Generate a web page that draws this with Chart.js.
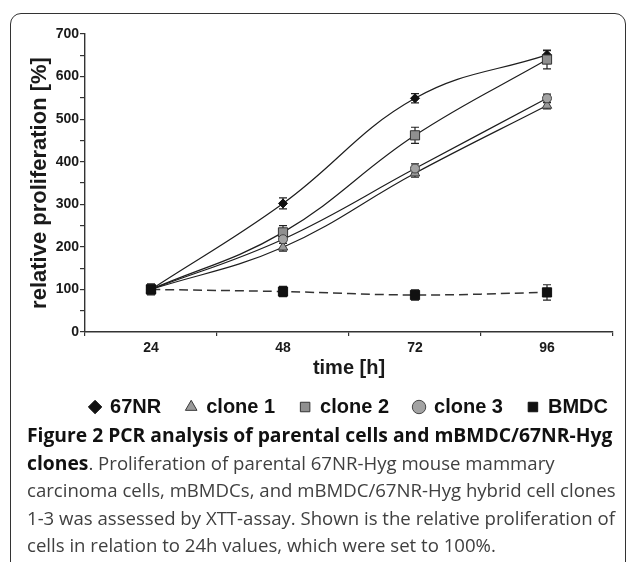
<!DOCTYPE html>
<html>
<head>
<meta charset="utf-8">
<script src="https://cdn.jsdelivr.net/npm/chart.js@4.4.1/dist/chart.umd.min.js"></script>
<style>
  html, body { margin: 0; padding: 0; background: #fff; }
  body { width: 629px; height: 562px; position: relative; overflow: hidden; }
  #frame { position: absolute; left: 10px; top: 13px; width: 614px; height: 620px;
           border: 1.5px solid #333; border-radius: 11px; }
  #wrap { position: absolute; left: 0; top: 0; width: 629px; height: 437px; }
  #caption { position: absolute; left: 27px; top: 421px; font-family: 'Open Sans', sans-serif;
             font-size: 18.6px; line-height: 27.5px; color: #404040; white-space: nowrap; }
  #caption b { color: #111; font-weight: 700; font-size: 19.3px; }
</style>
</head>
<body>
<div id="frame"></div>
<div id="wrap"><canvas id="chart"></canvas></div>
<div id="caption">
<b>Figure 2 PCR analysis of parental cells and mBMDC/67NR-Hyg</b><br>
<b>clones</b>. Proliferation of parental 67NR-Hyg mouse mammary<br>
carcinoma cells, mBMDCs, and mBMDC/67NR-Hyg hybrid cell clones<br>
1-3 was assessed by XTT-assay. Shown is the relative proliferation of<br>
cells in relation to 24h values, which were set to 100%.
</div>
<script>
// values (relative proliferation, %)
var times = ['24', '48', '72', '96'];
var nr67 = [100, 302, 549, 651];
var nr67Err = [8, 13, 11, 10];
var clone1 = [100, 199, 373, 532];
var clone1Err = [8, 9, 9, 8];
var clone2 = [100, 234, 462, 640];
var clone2Err = [10, 16, 19, 22];
var clone3 = [100, 218, 384, 549];
var clone3Err = [8, 10, 11, 10];
var bmdc = [100, 95, 87, 93];
var bmdcErr = [13, 12, 12, 18];
var yTicks = { min: 0, max: 700, step: 50 };

var FONT = "'Liberation Sans', Arial, sans-serif";
var INK = '#1a1a1a';

// error bars, drawn under the markers
var errorBars = {
  id: 'errorBars',
  beforeDatasetsDraw: function(chart) {
    var ctx = chart.ctx;
    var ys = chart.scales.y;
    chart.data.datasets.forEach(function(ds, di) {
      var meta = chart.getDatasetMeta(di);
      ds.data.forEach(function(v, i) {
        var pt = meta.data[i];
        var e = ds.errors[i];
        var top = ys.getPixelForValue(v + e);
        var bot = ys.getPixelForValue(v - e);
        ctx.save();
        ctx.strokeStyle = '#222';
        ctx.lineWidth = 1.2;
        ctx.beginPath();
        ctx.moveTo(pt.x, top); ctx.lineTo(pt.x, bot);
        ctx.moveTo(pt.x - 4, top); ctx.lineTo(pt.x + 4, top);
        ctx.moveTo(pt.x - 4, bot); ctx.lineTo(pt.x + 4, bot);
        ctx.stroke();
        ctx.restore();
      });
    });
  }
};

// keep the legend centred under the plot area, a bit closer to the axis title
var legendPlace = {
  id: 'legendPlace',
  afterLayout: function(chart) {
    var lg = chart.legend;
    var a = chart.chartArea;
    var dx = (a.left + a.right) / 2 - (lg.left + lg.right) / 2;
    lg.left += dx; lg.right += dx;
    lg.top -= 10; lg.bottom -= 10;
  }
};

function series(label, data, errs, style, order) {
  var ds = {
    label: label,
    data: data,
    errors: errs,
    order: order,
    borderColor: '#1e1e1e',
    borderWidth: 1.2,
    tension: 0.4,
    fill: false,
    pointBorderWidth: 1
  };
  Object.keys(style).forEach(function(k) { ds[k] = style[k]; });
  return ds;
}

new Chart(document.getElementById('chart'), {
  type: 'line',
  data: {
    labels: times,
    datasets: [
      series('67NR', nr67, nr67Err, {
        pointStyle: 'rectRot', pointRadius: 4.5,
        pointBackgroundColor: '#111', pointBorderColor: '#111'
      }, 4),
      series('clone 1', clone1, clone1Err, {
        pointStyle: 'triangle', pointRadius: 5.5,
        pointBackgroundColor: '#9a9a9a', pointBorderColor: '#3a3a3a'
      }, 3),
      series('clone 2', clone2, clone2Err, {
        pointStyle: 'rect', pointRadius: 6.5,
        pointBackgroundColor: '#8f8f8f', pointBorderColor: '#333'
      }, 2),
      series('clone 3', clone3, clone3Err, {
        pointStyle: 'circle', pointRadius: 4.5,
        pointBackgroundColor: '#a3a3a3', pointBorderColor: '#444'
      }, 1),
      series('BMDC', bmdc, bmdcErr, {
        pointStyle: 'rect', pointRadius: 6.5,
        pointBackgroundColor: '#111', pointBorderColor: '#111',
        borderColor: '#333', borderWidth: 1.5, borderDash: [9, 5]
      }, 0)
    ]
  },
  options: {
    responsive: true,
    maintainAspectRatio: false,
    animation: false,
    layout: { padding: { left: 10, top: 34, right: 16, bottom: 0 } },
    plugins: {
      tooltip: { enabled: false },
      legend: {
        position: 'bottom',
        labels: {
          usePointStyle: true,
          boxWidth: 10,
          boxHeight: 9.5,
          padding: 25,
          color: '#111',
          font: { family: FONT, size: 20, weight: 'bold' },
          sort: function(a, b) { return a.datasetIndex - b.datasetIndex; }
        }
      }
    },
    scales: {
      x: {
        type: 'category',
        offset: true,
        afterFit: function(scale) { scale.height = 50; },
        grid: { display: true, drawOnChartArea: false, offset: true, tickLength: 4, color: '#333', lineWidth: 1.2 },
        border: { display: true, color: '#333', width: 1.4 },
        ticks: { color: INK, padding: 4, font: { family: FONT, size: 14, weight: 'bold' } },
        title: {
          display: true, text: 'time [h]', color: INK,
          padding: { top: 0, bottom: 2 },
          font: { family: FONT, size: 20, weight: 'bold' }
        }
      },
      y: {
        min: yTicks.min,
        max: yTicks.max,
        afterFit: function(scale) { scale.width = 75; },
        grid: { display: true, drawOnChartArea: false, tickLength: 5, color: '#333', lineWidth: 1.2 },
        border: { display: true, color: '#333', width: 1.4 },
        ticks: {
          stepSize: yTicks.step,
          autoSkip: false,
          padding: 1,
          color: INK,
          font: { family: FONT, size: 14, weight: 'bold' },
          callback: function(v) { return v % 100 === 0 ? v : ''; }
        },
        title: {
          display: true, text: 'relative proliferation [%]', color: INK,
          padding: { top: 17, bottom: 0 },
          font: { family: FONT, size: 22, weight: 'bold' }
        }
      }
    }
  },
  plugins: [errorBars, legendPlace]
});
</script>
</body>
</html>
